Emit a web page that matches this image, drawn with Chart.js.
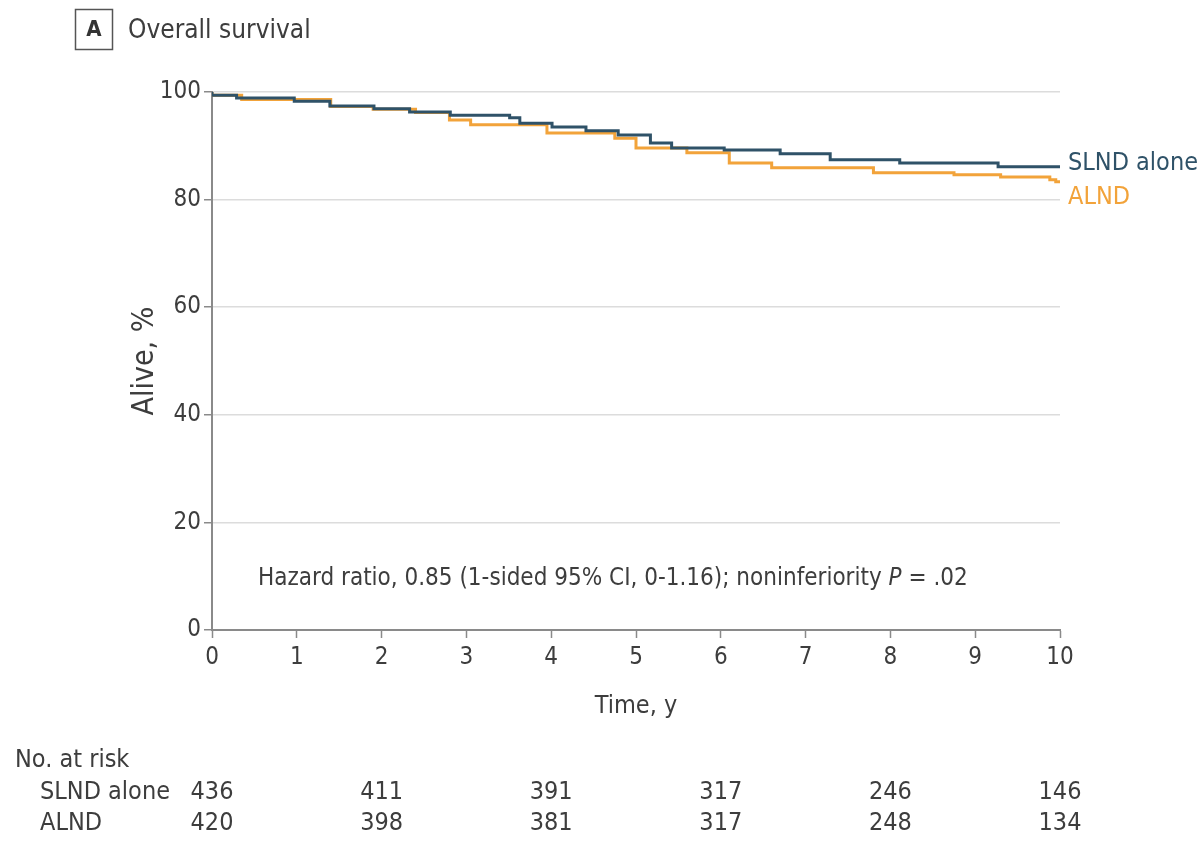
<!DOCTYPE html>
<html><head><meta charset="utf-8">
<script src="https://cdn.jsdelivr.net/npm/chart.js@4.4.0/dist/chart.umd.min.js"></script>
<style>html,body{margin:0;padding:0;background:#fff;} canvas{display:block;}</style>
</head><body>
<canvas id="c" width="1203" height="841"></canvas>
<script>
// ---- data ----
const xTicks = [0,1,2,3,4,5,6,7,8,9,10];
const yTicks = [0,20,40,60,80,100];
const seriesNames = ['SLND alone','ALND'];
const slndTimes = [0,0.29,0.97,1.39,1.91,2.33,2.81,3.51,3.63,4.01,4.41,4.79,5.17,5.42,6.04,6.70,7.29,8.11,9.27,9.71,10];
const slndSurv  = [100,99.4,98.9,98.3,97.4,96.9,96.3,95.7,95.2,94.2,93.5,92.8,92.0,90.5,89.6,89.2,88.5,87.4,86.8,86.1,86.1];
const alndTimes = [0,0.35,1.4,1.9,2.4,2.8,3.05,3.95,4.75,5.0,5.6,6.1,6.6,7.8,8.75,9.3,9.88,9.95,10];
const alndSurv  = [100,99.4,98.6,97.3,96.8,96.2,94.8,93.9,92.4,91.4,89.6,88.7,86.8,85.9,85.0,84.6,84.2,83.7,83.3];
const riskTimes = [0,2,4,6,8,10];
const riskSLND  = [436,411,391,317,246,146];
const riskALND  = [420,398,381,317,248,134];

const FONT = '"Liberation Sans Narrow","Arial Narrow","DejaVu Sans Condensed",sans-serif';
const TEXT = '#3d3d3d';
const C_SLND = '#2f5268';
const C_ALND = '#f2a33a';

const toPts = (ts, vs) => ts.map((t,i)=>({x:t, y:vs[i]}));

const extras = {
  id:'extras',
  afterDraw(chart){
    const {ctx, chartArea:ca, scales:{x,y}} = chart;
    ctx.save();
    // panel label
    ctx.strokeStyle = '#555'; ctx.lineWidth = 1.5;
    ctx.strokeRect(75.5, 9.5, 37, 40);
    ctx.fillStyle = '#333'; ctx.font = 'bold 22px '+FONT;
    ctx.textAlign = 'center'; ctx.textBaseline = 'middle';
    ctx.fillText('A', 94, 30);
    ctx.fillStyle = TEXT; ctx.font = '26px '+FONT; ctx.textAlign = 'left';
    ctx.fillText('Overall survival', 128, 31);

    // annotation
    let ax = ca.left + 46; const ay = ca.bottom - 51;
    const parts = [['Hazard ratio, 0.85 (1-sided 95% CI, 0-1.16); noninferiority ', ''], ['P','italic '], [' = .02','']];
    for (const [s, st] of parts){
      ctx.font = st + '24px ' + FONT;
      ctx.fillText(s, ax, ay);
      ax += ctx.measureText(s).width;
    }

    // end labels
    ctx.font = '25px '+FONT;
    ctx.fillStyle = C_SLND;
    ctx.fillText(seriesNames[0], ca.right + 8, y.getPixelForValue(slndSurv[slndSurv.length-1]) - 3);
    ctx.fillStyle = C_ALND;
    ctx.fillText(seriesNames[1], ca.right + 8, y.getPixelForValue(alndSurv[alndSurv.length-1]) + 16);

    // risk table
    ctx.fillStyle = TEXT; ctx.font = '25px '+FONT;
    ctx.textAlign = 'left';
    ctx.fillText('No. at risk', 15, 760);
    ctx.fillText(seriesNames[0], 40, 792);
    ctx.fillText(seriesNames[1], 40, 823);
    ctx.textAlign = 'center';
    riskTimes.forEach((t,i)=>{
      const px = x.getPixelForValue(t);
      ctx.fillText(String(riskSLND[i]), px, 792);
      ctx.fillText(String(riskALND[i]), px, 823);
    });
    ctx.restore();
  }
};

new Chart(document.getElementById('c'), {
  type:'line',
  data:{
    datasets:[
      {label:seriesNames[0], data:toPts(slndTimes, slndSurv), borderColor:C_SLND, borderWidth:3, pointRadius:0, stepped:'after', fill:false},
      {label:seriesNames[1], data:toPts(alndTimes, alndSurv), borderColor:C_ALND, borderWidth:3, pointRadius:0, stepped:'after', fill:false}
    ]
  },
  options:{
    responsive:false, animation:false, devicePixelRatio:1,
    layout:{padding:{left:123, right:143, top:92, bottom:116}},
    plugins:{legend:{display:false}, tooltip:{enabled:false}},
    scales:{
      x:{
        type:'linear', min:0, max:10,
        afterBuildTicks(s){ s.ticks = xTicks.map(v=>({value:v})); },
        afterFit(s){ s.height = 95; },
        grid:{drawOnChartArea:false, drawTicks:true, tickLength:8, tickColor:'#8a8a8a', tickWidth:1.5},
        border:{color:'#8a8a8a', width:2},
        ticks:{color:TEXT, font:{family:FONT, size:24}, padding:5, maxRotation:0, autoSkip:false},
        title:{display:true, text:'Time, y', color:TEXT, font:{family:FONT, size:25}}
      },
      y:{
        type:'linear', min:0, max:100,
        afterBuildTicks(s){ s.ticks = yTicks.map(v=>({value:v})); },
        afterFit(s){ s.width = 89; },
        grid:{color:'#dcdcdc', lineWidth:1.5, drawTicks:true, tickLength:8, tickColor:'#8a8a8a', tickWidth:1.5},
        border:{color:'#8a8a8a', width:2},
        ticks:{color:TEXT, font:{family:FONT, size:24}, padding:3, autoSkip:false},
        title:{display:true, text:'Alive, %', color:TEXT, font:{family:FONT, size:30}}
      }
    }
  },
  plugins:[extras]
});
</script>
</body></html>
